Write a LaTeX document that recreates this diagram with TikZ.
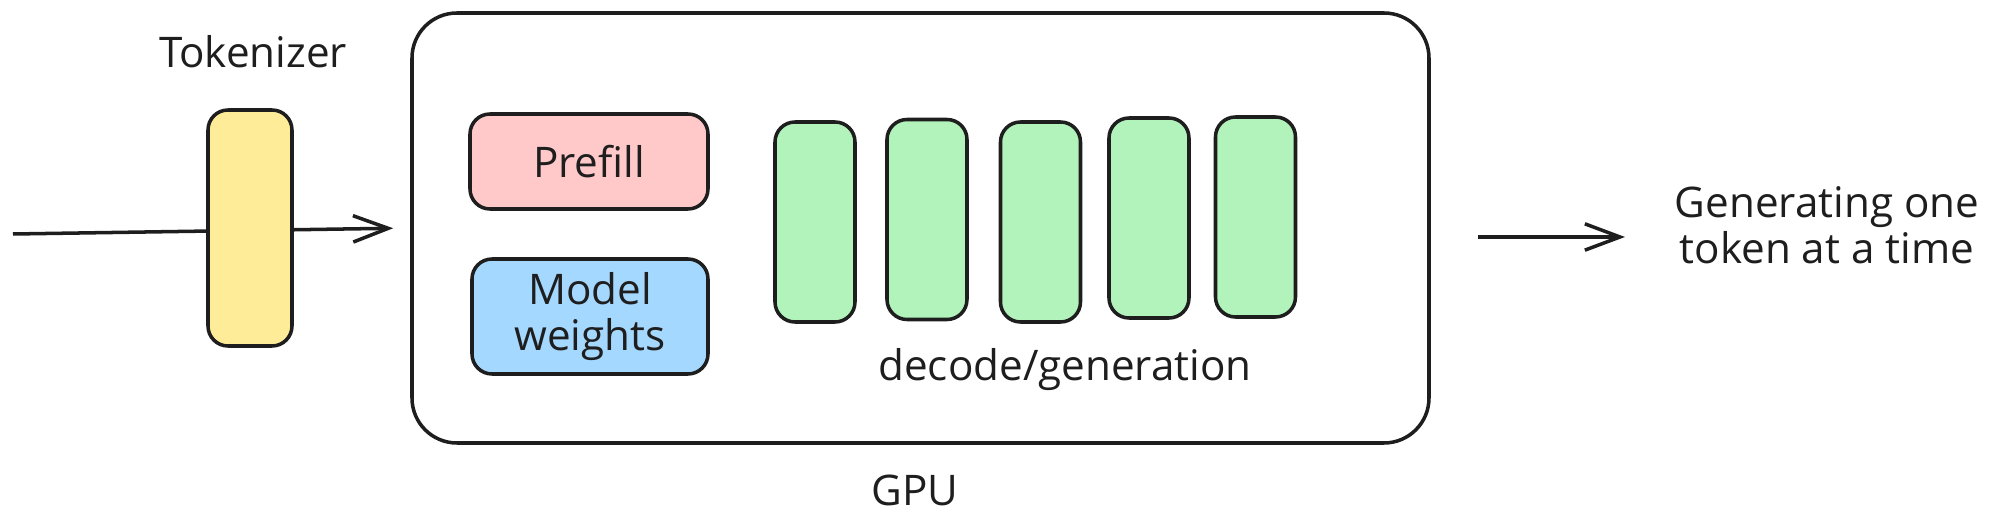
\documentclass[tikz,border=0pt]{standalone}
\usepackage{fontspec}
\setmainfont{Open Sans}
\usetikzlibrary{arrows.meta}
\definecolor{ink}{HTML}{1E1E1E}
\definecolor{tokyellow}{HTML}{FFEC99}
\definecolor{prefillred}{HTML}{FFC9C9}
\definecolor{weightblue}{HTML}{A5D8FF}
\definecolor{decgreen}{HTML}{B2F2BB}
\tikzset{
  box/.style={draw=ink,line width=1pt,rounded corners=0.2cm,inner sep=0pt},
  lbl/.style={text=ink,font=\fontsize{12}{13}\selectfont,align=center},
  arr/.style={draw=ink,line width=1pt,-{Straight Barb[length=10pt,width=7.5pt]}}
}
\begin{document}
\begin{tikzpicture}
\useasboundingbox (0,0) rectangle (19.99,5.31);
\draw (9.205,3.03) node[box,rounded corners=0.45cm,minimum width=10.17cm,minimum height=4.30cm](gpu) {};
\coordinate (in) at (0.13,2.97);
\draw[arr,shorten >=0.17cm] (in) -- (gpu.west);
\draw (2.50,3.03) node[box,fill=tokyellow,minimum width=0.84cm,minimum height=2.36cm](tok) {};
\draw (2.53,4.79) node[lbl](toklabel) {Tokenizer};
\draw (5.89,3.695) node[box,lbl,fill=prefillred,minimum width=2.38cm,minimum height=0.95cm](prefill) {Prefill};
\draw (5.90,2.145) node[box,lbl,fill=weightblue,minimum width=2.36cm,minimum height=1.15cm](weights) {Model\\weights};
\draw (8.15,3.09) node[box,fill=decgreen,minimum width=0.80cm,minimum height=2.00cm](decone) {};
\draw (9.27,3.115) node[box,fill=decgreen,minimum width=0.80cm,minimum height=2.00cm](dectwo) {};
\draw (10.405,3.09) node[box,fill=decgreen,minimum width=0.80cm,minimum height=2.00cm](decthree) {};
\draw (11.49,3.13) node[box,fill=decgreen,minimum width=0.80cm,minimum height=2.00cm](decfour) {};
\draw (12.555,3.14) node[box,fill=decgreen,minimum width=0.80cm,minimum height=2.00cm](decfive) {};
\draw (10.65,1.61) node[lbl](declabel) {decode/generation};
\draw (9.15,0.41) node[lbl](gpulabel) {GPU};
\draw (18.27,3.06) node[lbl,inner sep=0pt](gen) {Generating one\\token at a time};
\coordinate (outend) at (16.25,2.94);
\draw[arr,shorten <=0.47cm] (gpu.east |- outend) -- (outend);
\end{tikzpicture}
\end{document}
